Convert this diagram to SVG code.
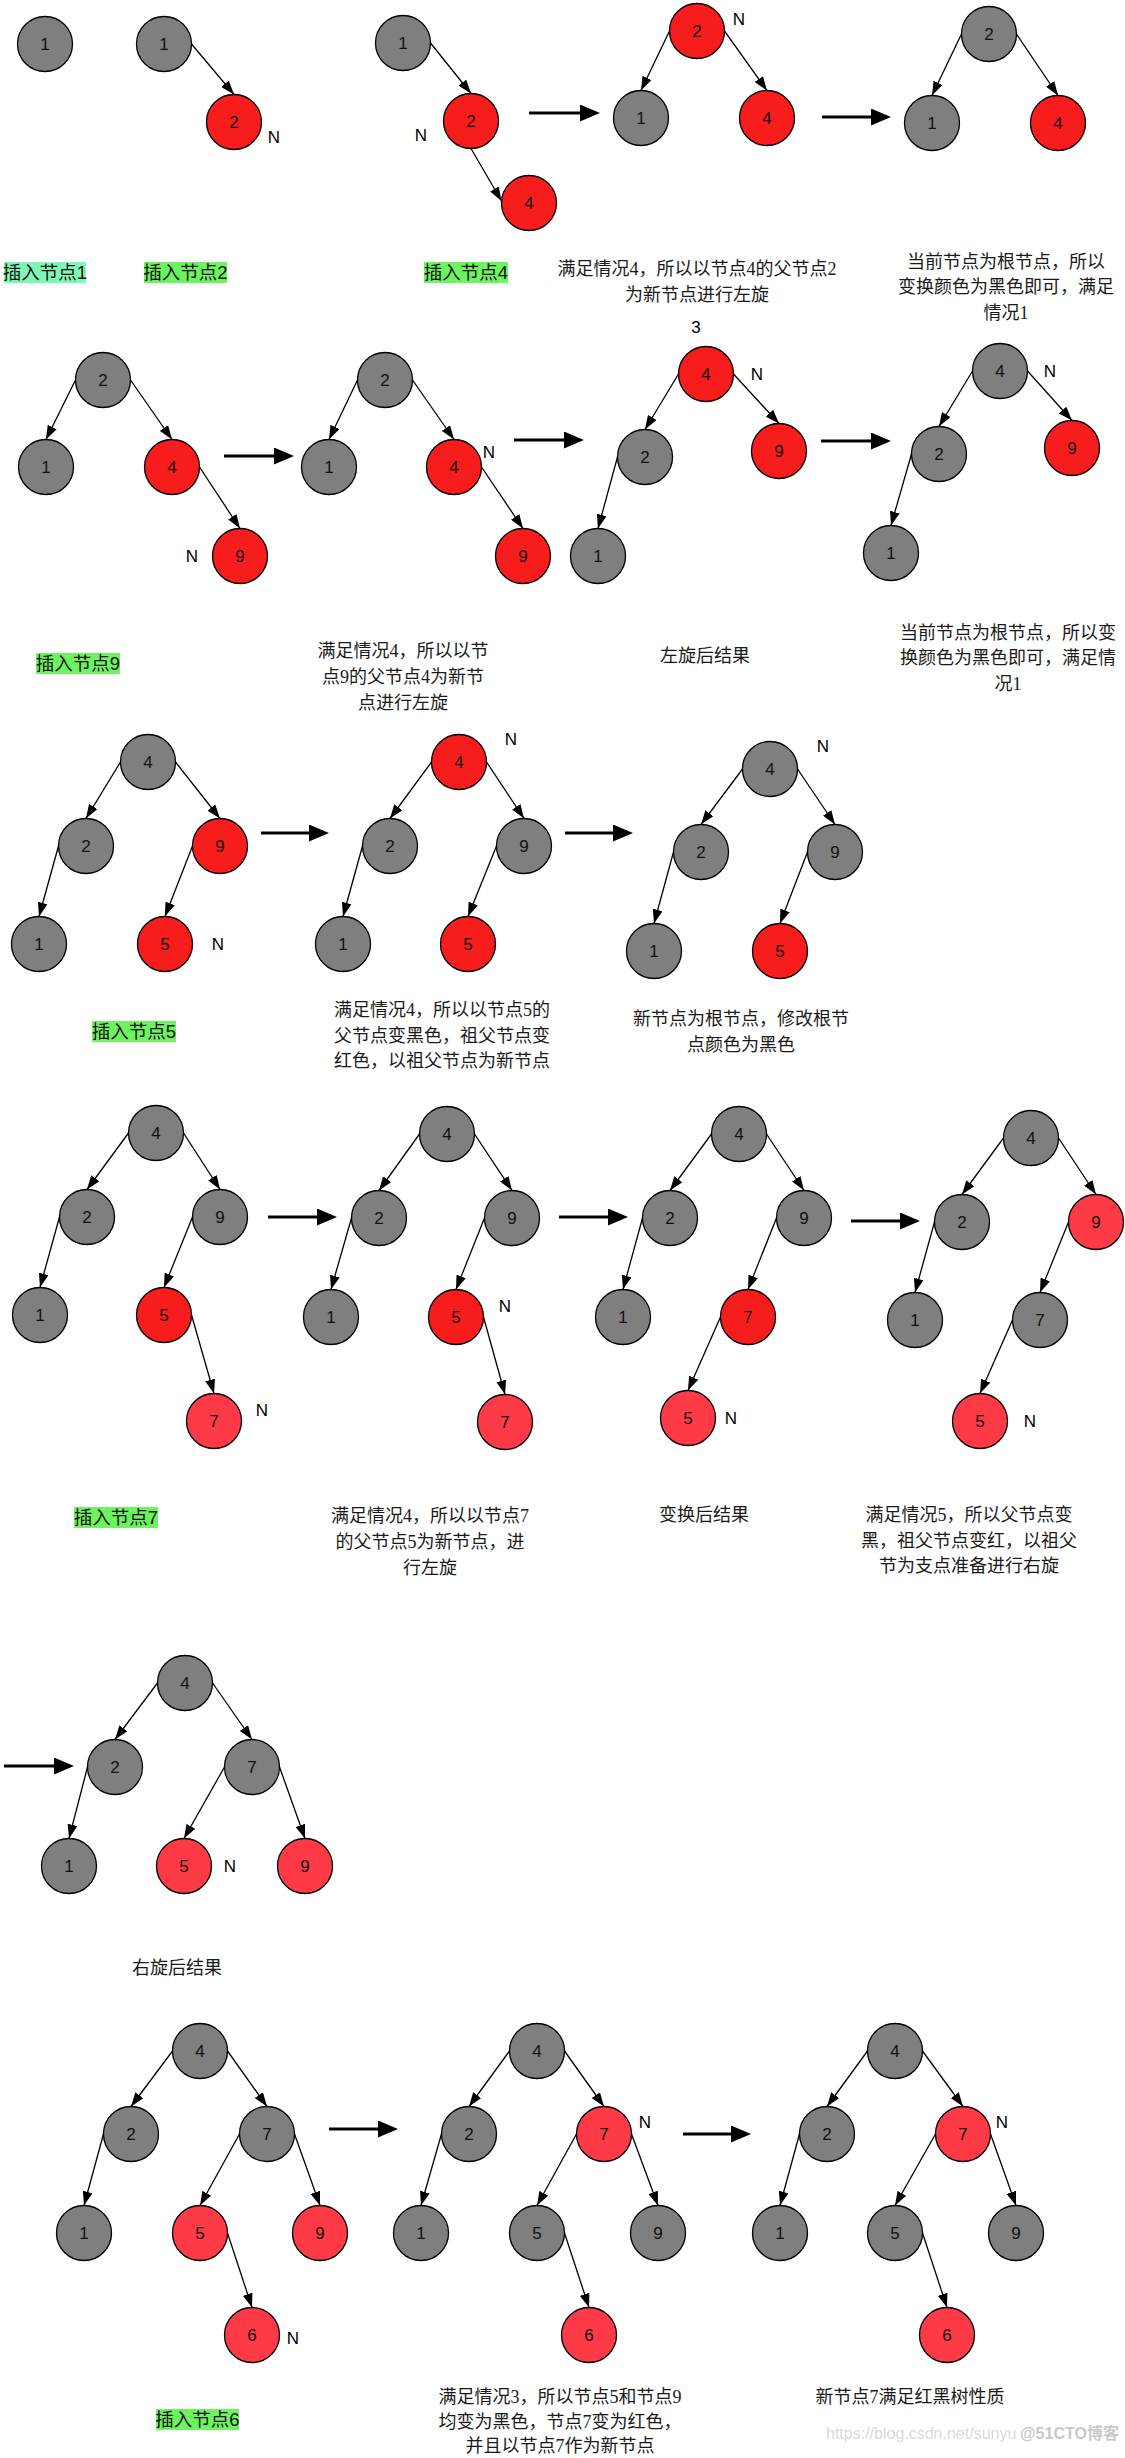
<svg xmlns="http://www.w3.org/2000/svg" width="1125" height="2458" viewBox="0 0 1125 2458">
<style>
.g{fill:#7f7f7f;stroke:#000;stroke-width:1.3}
.r{fill:#f71d1d;stroke:#000;stroke-width:1.3}
.lr{fill:#fd3a45;stroke:#000;stroke-width:1.3}
.t{font-family:"Liberation Sans",Arial,sans-serif;font-size:17px;fill:#111;text-anchor:middle;dominant-baseline:central}
.n{font-family:"Liberation Sans",Arial,sans-serif;font-size:17px;fill:#000;text-anchor:middle;dominant-baseline:central}
.cap{font-family:"Liberation Serif","Noto Sans CJK SC",serif;font-size:18px;fill:#1a1a1a;text-anchor:middle;dominant-baseline:central}
.lbl{font-family:"Liberation Sans","Noto Sans CJK SC",sans-serif;font-size:18.5px;fill:#111;text-anchor:middle;dominant-baseline:central}
.hl1{fill:#7ef7b6}
.hl{fill:#6df35f}
.e{fill:none;stroke:#000;stroke-width:1.3;marker-end:url(#ah)}
.big{fill:none;stroke:#000;stroke-width:3;marker-end:url(#bh)}
.wm{font-family:"Liberation Sans",Arial,sans-serif;font-size:16px;fill:#dadada}
.wm2{font-family:"Liberation Sans","Noto Sans CJK SC",sans-serif;font-size:16px;font-weight:bold;fill:#c8c8c8}
</style>
<defs>
<marker id="ah" markerUnits="userSpaceOnUse" markerWidth="14" markerHeight="10" refX="14" refY="5" orient="auto"><path d="M0,0 L14,5 L0,10 z" fill="#000"/></marker>
<marker id="bh" markerUnits="userSpaceOnUse" markerWidth="20" markerHeight="17" refX="2" refY="8.5" orient="auto"><path d="M0,0 L20,8.5 L0,17 z" fill="#000"/></marker>
</defs>
<rect width="1125" height="2458" fill="#fff"/>

<g id="connectors">
<path class="e" d="M191.5,44 L234,94.5"/>
<path class="e" d="M430.5,43 L471,93.5"/>
<path class="e" d="M471,148.5 L501.5,201"/>
<path class="e" d="M669.5,31 L641,90.5"/>
<path class="e" d="M724.5,31 L767,90.5"/>
<path class="e" d="M961.5,34 L932,95.5"/>
<path class="e" d="M1016.5,34 L1058,95.5"/>
<path class="e" d="M75.5,380 L46,439.5"/>
<path class="e" d="M130.5,380 L172,439.5"/>
<path class="e" d="M199.5,467 L240,528.5"/>
<path class="e" d="M357.5,380 L329,439.5"/>
<path class="e" d="M412.5,380 L454,439.5"/>
<path class="e" d="M481.5,467 L523,528.5"/>
<path class="e" d="M678.5,374 L645,429.5"/>
<path class="e" d="M733.5,374 L779,423.5"/>
<path class="e" d="M617.5,457 L598,528.5"/>
<path class="e" d="M972.5,371 L939,426.5"/>
<path class="e" d="M1027.5,371 L1072,420.5"/>
<path class="e" d="M911.5,454 L891,525.5"/>
<path class="e" d="M120.5,762 L86,818.5"/>
<path class="e" d="M175.5,762 L220,818.5"/>
<path class="e" d="M58.5,846 L39,916.5"/>
<path class="e" d="M192.5,846 L165,916.5"/>
<path class="e" d="M431.5,762 L390,818.5"/>
<path class="e" d="M486.5,762 L524,818.5"/>
<path class="e" d="M362.5,846 L343,916.5"/>
<path class="e" d="M496.5,846 L468,916.5"/>
<path class="e" d="M742.5,769 L701,824.5"/>
<path class="e" d="M797.5,769 L835,824.5"/>
<path class="e" d="M673.5,852 L654,923.5"/>
<path class="e" d="M807.5,852 L780,923.5"/>
<path class="e" d="M128.5,1133 L87,1189.5"/>
<path class="e" d="M183.5,1133 L220,1189.5"/>
<path class="e" d="M59.5,1217 L40,1287.5"/>
<path class="e" d="M192.5,1217 L164,1287.5"/>
<path class="e" d="M191.5,1315 L214,1393.5"/>
<path class="e" d="M419.5,1134 L379,1190.5"/>
<path class="e" d="M474.5,1134 L512,1190.5"/>
<path class="e" d="M351.5,1218 L331,1289.5"/>
<path class="e" d="M484.5,1218 L456,1289.5"/>
<path class="e" d="M483.5,1317 L505,1394.5"/>
<path class="e" d="M711.5,1134 L670,1190.5"/>
<path class="e" d="M766.5,1134 L804,1190.5"/>
<path class="e" d="M642.5,1218 L623,1289.5"/>
<path class="e" d="M776.5,1218 L748,1289.5"/>
<path class="e" d="M720.5,1317 L688,1390.5"/>
<path class="e" d="M1003.5,1138 L962,1194.5"/>
<path class="e" d="M1058.5,1138 L1096,1194.5"/>
<path class="e" d="M934.5,1222 L915,1292.5"/>
<path class="e" d="M1068.5,1222 L1040,1292.5"/>
<path class="e" d="M1012.5,1320 L980,1393.5"/>
<path class="e" d="M157.5,1683 L115,1739.5"/>
<path class="e" d="M212.5,1683 L252,1739.5"/>
<path class="e" d="M87.5,1767 L69,1838.5"/>
<path class="e" d="M224.5,1767 L184,1838.5"/>
<path class="e" d="M279.5,1767 L305,1838.5"/>
<path class="e" d="M172.5,2051 L131,2106.5"/>
<path class="e" d="M227.5,2051 L267,2106.5"/>
<path class="e" d="M103.5,2134 L84,2205.5"/>
<path class="e" d="M239.5,2134 L200,2205.5"/>
<path class="e" d="M294.5,2134 L320,2205.5"/>
<path class="e" d="M227.5,2233 L252,2307.5"/>
<path class="e" d="M509.5,2051 L469,2106.5"/>
<path class="e" d="M564.5,2051 L604,2106.5"/>
<path class="e" d="M441.5,2134 L421,2205.5"/>
<path class="e" d="M576.5,2134 L537,2205.5"/>
<path class="e" d="M631.5,2134 L658,2205.5"/>
<path class="e" d="M564.5,2233 L589,2307.5"/>
<path class="e" d="M867.5,2051 L827,2106.5"/>
<path class="e" d="M922.5,2051 L963,2106.5"/>
<path class="e" d="M799.5,2134 L780,2205.5"/>
<path class="e" d="M935.5,2134 L895,2205.5"/>
<path class="e" d="M990.5,2134 L1016,2205.5"/>
<path class="e" d="M922.5,2233 L947,2307.5"/>
<path class="big" d="M529,113 L582,113"/>
<path class="big" d="M822,117 L873,117"/>
<path class="big" d="M224,456 L276,456"/>
<path class="big" d="M514,440 L566,440"/>
<path class="big" d="M821,441 L873,441"/>
<path class="big" d="M261,833 L311,833"/>
<path class="big" d="M565,833 L615,833"/>
<path class="big" d="M268,1217 L319,1217"/>
<path class="big" d="M559,1217 L610,1217"/>
<path class="big" d="M851,1221 L902,1221"/>
<path class="big" d="M4,1766 L56,1766"/>
<path class="big" d="M329,2129 L380,2129"/>
<path class="big" d="M683,2134 L733,2134"/>
</g>

<g id="r1a-n1"><circle class="g" cx="45" cy="44" r="27.5"/><text class="t" x="45" y="44">1</text></g>
<g id="r1b-n1"><circle class="g" cx="164" cy="44" r="27.5"/><text class="t" x="164" y="44">1</text></g>
<g id="r1b-n2"><circle class="r" cx="234" cy="122" r="27.5"/><text class="t" x="234" y="122">2</text></g>
<text class="n" x="274" y="137">N</text>
<g id="r1c-n1"><circle class="g" cx="403" cy="43" r="27.5"/><text class="t" x="403" y="43">1</text></g>
<g id="r1c-n2"><circle class="r" cx="471" cy="121" r="27.5"/><text class="t" x="471" y="121">2</text></g>
<g id="r1c-n4"><circle class="r" cx="529" cy="203" r="27.5"/><text class="t" x="529" y="203">4</text></g>
<text class="n" x="421" y="135">N</text>
<g id="r1d-n2"><circle class="r" cx="697" cy="31" r="27.5"/><text class="t" x="697" y="31">2</text></g>
<g id="r1d-n1"><circle class="g" cx="641" cy="118" r="27.5"/><text class="t" x="641" y="118">1</text></g>
<g id="r1d-n4"><circle class="r" cx="767" cy="118" r="27.5"/><text class="t" x="767" y="118">4</text></g>
<text class="n" x="739" y="19">N</text>
<g id="r1e-n2"><circle class="g" cx="989" cy="34" r="27.5"/><text class="t" x="989" y="34">2</text></g>
<g id="r1e-n1"><circle class="g" cx="932" cy="123" r="27.5"/><text class="t" x="932" y="123">1</text></g>
<g id="r1e-n4"><circle class="r" cx="1058" cy="123" r="27.5"/><text class="t" x="1058" y="123">4</text></g>

<g id="lbl1"><rect class="hl1" x="4" y="262" width="82" height="21"/><text class="lbl" x="45" y="272.5">插入节点1</text></g>
<g id="lbl2"><rect class="hl" x="144" y="262" width="83" height="21"/><text class="lbl" x="185.5" y="272.5">插入节点2</text></g>
<g id="lbl4"><rect class="hl" x="424" y="262" width="84" height="21"/><text class="lbl" x="466" y="272.5">插入节点4</text></g>
<text class="cap" x="697" y="269">满足情况4，所以以节点4的父节点2</text>
<text class="cap" x="697" y="295">为新节点进行左旋</text>
<text class="cap" x="1006" y="262">当前节点为根节点，所以</text>
<text class="cap" x="1006" y="287">变换颜色为黑色即可，满足</text>
<text class="cap" x="1006" y="313">情况1</text>

<g id="r2a-n2"><circle class="g" cx="103" cy="380" r="27.5"/><text class="t" x="103" y="380">2</text></g>
<g id="r2a-n1"><circle class="g" cx="46" cy="467" r="27.5"/><text class="t" x="46" y="467">1</text></g>
<g id="r2a-n4"><circle class="r" cx="172" cy="467" r="27.5"/><text class="t" x="172" y="467">4</text></g>
<g id="r2a-n9"><circle class="r" cx="240" cy="556" r="27.5"/><text class="t" x="240" y="556">9</text></g>
<text class="n" x="192" y="556">N</text>
<g id="r2b-n2"><circle class="g" cx="385" cy="380" r="27.5"/><text class="t" x="385" y="380">2</text></g>
<g id="r2b-n1"><circle class="g" cx="329" cy="467" r="27.5"/><text class="t" x="329" y="467">1</text></g>
<g id="r2b-n4"><circle class="r" cx="454" cy="467" r="27.5"/><text class="t" x="454" y="467">4</text></g>
<g id="r2b-n9"><circle class="r" cx="523" cy="556" r="27.5"/><text class="t" x="523" y="556">9</text></g>
<text class="n" x="489" y="452">N</text>
<text class="n" x="696" y="327">3</text>
<g id="r2c-n4"><circle class="r" cx="706" cy="374" r="27.5"/><text class="t" x="706" y="374">4</text></g>
<g id="r2c-n2"><circle class="g" cx="645" cy="457" r="27.5"/><text class="t" x="645" y="457">2</text></g>
<g id="r2c-n9"><circle class="r" cx="779" cy="451" r="27.5"/><text class="t" x="779" y="451">9</text></g>
<g id="r2c-n1"><circle class="g" cx="598" cy="556" r="27.5"/><text class="t" x="598" y="556">1</text></g>
<text class="n" x="757" y="374">N</text>
<g id="r2d-n4"><circle class="g" cx="1000" cy="371" r="27.5"/><text class="t" x="1000" y="371">4</text></g>
<g id="r2d-n2"><circle class="g" cx="939" cy="454" r="27.5"/><text class="t" x="939" y="454">2</text></g>
<g id="r2d-n9"><circle class="r" cx="1072" cy="448" r="27.5"/><text class="t" x="1072" y="448">9</text></g>
<g id="r2d-n1"><circle class="g" cx="891" cy="553" r="27.5"/><text class="t" x="891" y="553">1</text></g>
<text class="n" x="1050" y="371">N</text>

<g id="lbl9"><rect class="hl" x="36" y="653" width="84" height="21"/><text class="lbl" x="78" y="663.5">插入节点9</text></g>
<text class="cap" x="403" y="651">满足情况4，所以以节</text>
<text class="cap" x="403" y="677">点9的父节点4为新节</text>
<text class="cap" x="403" y="703">点进行左旋</text>
<text class="cap" x="705" y="656">左旋后结果</text>
<text class="cap" x="1008" y="633">当前节点为根节点，所以变</text>
<text class="cap" x="1008" y="658">换颜色为黑色即可，满足情</text>
<text class="cap" x="1008" y="684">况1</text>

<g id="r3a-n4"><circle class="g" cx="148" cy="762" r="27.5"/><text class="t" x="148" y="762">4</text></g>
<g id="r3a-n2"><circle class="g" cx="86" cy="846" r="27.5"/><text class="t" x="86" y="846">2</text></g>
<g id="r3a-n9"><circle class="r" cx="220" cy="846" r="27.5"/><text class="t" x="220" y="846">9</text></g>
<g id="r3a-n1"><circle class="g" cx="39" cy="944" r="27.5"/><text class="t" x="39" y="944">1</text></g>
<g id="r3a-n5"><circle class="r" cx="165" cy="944" r="27.5"/><text class="t" x="165" y="944">5</text></g>
<text class="n" x="218" y="944">N</text>
<g id="r3b-n4"><circle class="r" cx="459" cy="762" r="27.5"/><text class="t" x="459" y="762">4</text></g>
<g id="r3b-n2"><circle class="g" cx="390" cy="846" r="27.5"/><text class="t" x="390" y="846">2</text></g>
<g id="r3b-n9"><circle class="g" cx="524" cy="846" r="27.5"/><text class="t" x="524" y="846">9</text></g>
<g id="r3b-n1"><circle class="g" cx="343" cy="944" r="27.5"/><text class="t" x="343" y="944">1</text></g>
<g id="r3b-n5"><circle class="r" cx="468" cy="944" r="27.5"/><text class="t" x="468" y="944">5</text></g>
<text class="n" x="511" y="739">N</text>
<g id="r3c-n4"><circle class="g" cx="770" cy="769" r="27.5"/><text class="t" x="770" y="769">4</text></g>
<g id="r3c-n2"><circle class="g" cx="701" cy="852" r="27.5"/><text class="t" x="701" y="852">2</text></g>
<g id="r3c-n9"><circle class="g" cx="835" cy="852" r="27.5"/><text class="t" x="835" y="852">9</text></g>
<g id="r3c-n1"><circle class="g" cx="654" cy="951" r="27.5"/><text class="t" x="654" y="951">1</text></g>
<g id="r3c-n5"><circle class="r" cx="780" cy="951" r="27.5"/><text class="t" x="780" y="951">5</text></g>
<text class="n" x="823" y="746">N</text>

<g id="lbl5"><rect class="hl" x="92" y="1021" width="84" height="21"/><text class="lbl" x="134" y="1031.5">插入节点5</text></g>
<text class="cap" x="442" y="1010">满足情况4，所以以节点5的</text>
<text class="cap" x="442" y="1036">父节点变黑色，祖父节点变</text>
<text class="cap" x="442" y="1061">红色，以祖父节点为新节点</text>
<text class="cap" x="741" y="1019">新节点为根节点，修改根节</text>
<text class="cap" x="741" y="1045">点颜色为黑色</text>

<g id="r4a-n4"><circle class="g" cx="156" cy="1133" r="27.5"/><text class="t" x="156" y="1133">4</text></g>
<g id="r4a-n2"><circle class="g" cx="87" cy="1217" r="27.5"/><text class="t" x="87" y="1217">2</text></g>
<g id="r4a-n9"><circle class="g" cx="220" cy="1217" r="27.5"/><text class="t" x="220" y="1217">9</text></g>
<g id="r4a-n1"><circle class="g" cx="40" cy="1315" r="27.5"/><text class="t" x="40" y="1315">1</text></g>
<g id="r4a-n5"><circle class="r" cx="164" cy="1315" r="27.5"/><text class="t" x="164" y="1315">5</text></g>
<g id="r4a-n7"><circle class="lr" cx="214" cy="1421" r="27.5"/><text class="t" x="214" y="1421">7</text></g>
<text class="n" x="262" y="1410">N</text>
<g id="r4b-n4"><circle class="g" cx="447" cy="1134" r="27.5"/><text class="t" x="447" y="1134">4</text></g>
<g id="r4b-n2"><circle class="g" cx="379" cy="1218" r="27.5"/><text class="t" x="379" y="1218">2</text></g>
<g id="r4b-n9"><circle class="g" cx="512" cy="1218" r="27.5"/><text class="t" x="512" y="1218">9</text></g>
<g id="r4b-n1"><circle class="g" cx="331" cy="1317" r="27.5"/><text class="t" x="331" y="1317">1</text></g>
<g id="r4b-n5"><circle class="r" cx="456" cy="1317" r="27.5"/><text class="t" x="456" y="1317">5</text></g>
<g id="r4b-n7"><circle class="lr" cx="505" cy="1422" r="27.5"/><text class="t" x="505" y="1422">7</text></g>
<text class="n" x="505" y="1306">N</text>
<g id="r4c-n4"><circle class="g" cx="739" cy="1134" r="27.5"/><text class="t" x="739" y="1134">4</text></g>
<g id="r4c-n2"><circle class="g" cx="670" cy="1218" r="27.5"/><text class="t" x="670" y="1218">2</text></g>
<g id="r4c-n9"><circle class="g" cx="804" cy="1218" r="27.5"/><text class="t" x="804" y="1218">9</text></g>
<g id="r4c-n1"><circle class="g" cx="623" cy="1317" r="27.5"/><text class="t" x="623" y="1317">1</text></g>
<g id="r4c-n7"><circle class="r" cx="748" cy="1317" r="27.5"/><text class="t" x="748" y="1317">7</text></g>
<g id="r4c-n5"><circle class="lr" cx="688" cy="1418" r="27.5"/><text class="t" x="688" y="1418">5</text></g>
<text class="n" x="731" y="1418">N</text>
<g id="r4d-n4"><circle class="g" cx="1031" cy="1138" r="27.5"/><text class="t" x="1031" y="1138">4</text></g>
<g id="r4d-n2"><circle class="g" cx="962" cy="1222" r="27.5"/><text class="t" x="962" y="1222">2</text></g>
<g id="r4d-n9"><circle class="lr" cx="1096" cy="1222" r="27.5"/><text class="t" x="1096" y="1222">9</text></g>
<g id="r4d-n1"><circle class="g" cx="915" cy="1320" r="27.5"/><text class="t" x="915" y="1320">1</text></g>
<g id="r4d-n7"><circle class="g" cx="1040" cy="1320" r="27.5"/><text class="t" x="1040" y="1320">7</text></g>
<g id="r4d-n5"><circle class="lr" cx="980" cy="1421" r="27.5"/><text class="t" x="980" y="1421">5</text></g>
<text class="n" x="1030" y="1421">N</text>

<g id="lbl7"><rect class="hl" x="74" y="1507" width="84" height="21"/><text class="lbl" x="116" y="1517.5">插入节点7</text></g>
<text class="cap" x="430" y="1516">满足情况4，所以以节点7</text>
<text class="cap" x="430" y="1542">的父节点5为新节点，进</text>
<text class="cap" x="430" y="1568">行左旋</text>
<text class="cap" x="704" y="1515">变换后结果</text>
<text class="cap" x="969" y="1515">满足情况5，所以父节点变</text>
<text class="cap" x="969" y="1541">黑，祖父节点变红，以祖父</text>
<text class="cap" x="969" y="1566">节为支点准备进行右旋</text>

<g id="r5-n4"><circle class="g" cx="185" cy="1683" r="27.5"/><text class="t" x="185" y="1683">4</text></g>
<g id="r5-n2"><circle class="g" cx="115" cy="1767" r="27.5"/><text class="t" x="115" y="1767">2</text></g>
<g id="r5-n7"><circle class="g" cx="252" cy="1767" r="27.5"/><text class="t" x="252" y="1767">7</text></g>
<g id="r5-n1"><circle class="g" cx="69" cy="1866" r="27.5"/><text class="t" x="69" y="1866">1</text></g>
<g id="r5-n5"><circle class="lr" cx="184" cy="1866" r="27.5"/><text class="t" x="184" y="1866">5</text></g>
<g id="r5-n9"><circle class="lr" cx="305" cy="1866" r="27.5"/><text class="t" x="305" y="1866">9</text></g>
<text class="n" x="230" y="1866">N</text>
<text class="cap" x="177" y="1968">右旋后结果</text>

<g id="r6a-n4"><circle class="g" cx="200" cy="2051" r="27.5"/><text class="t" x="200" y="2051">4</text></g>
<g id="r6a-n2"><circle class="g" cx="131" cy="2134" r="27.5"/><text class="t" x="131" y="2134">2</text></g>
<g id="r6a-n7"><circle class="g" cx="267" cy="2134" r="27.5"/><text class="t" x="267" y="2134">7</text></g>
<g id="r6a-n1"><circle class="g" cx="84" cy="2233" r="27.5"/><text class="t" x="84" y="2233">1</text></g>
<g id="r6a-n5"><circle class="lr" cx="200" cy="2233" r="27.5"/><text class="t" x="200" y="2233">5</text></g>
<g id="r6a-n9"><circle class="lr" cx="320" cy="2233" r="27.5"/><text class="t" x="320" y="2233">9</text></g>
<g id="r6a-n6"><circle class="lr" cx="252" cy="2335" r="27.5"/><text class="t" x="252" y="2335">6</text></g>
<text class="n" x="293" y="2338">N</text>
<g id="r6b-n4"><circle class="g" cx="537" cy="2051" r="27.5"/><text class="t" x="537" y="2051">4</text></g>
<g id="r6b-n2"><circle class="g" cx="469" cy="2134" r="27.5"/><text class="t" x="469" y="2134">2</text></g>
<g id="r6b-n7"><circle class="lr" cx="604" cy="2134" r="27.5"/><text class="t" x="604" y="2134">7</text></g>
<g id="r6b-n1"><circle class="g" cx="421" cy="2233" r="27.5"/><text class="t" x="421" y="2233">1</text></g>
<g id="r6b-n5"><circle class="g" cx="537" cy="2233" r="27.5"/><text class="t" x="537" y="2233">5</text></g>
<g id="r6b-n9"><circle class="g" cx="658" cy="2233" r="27.5"/><text class="t" x="658" y="2233">9</text></g>
<g id="r6b-n6"><circle class="lr" cx="589" cy="2335" r="27.5"/><text class="t" x="589" y="2335">6</text></g>
<text class="n" x="645" y="2122">N</text>
<g id="r6c-n4"><circle class="g" cx="895" cy="2051" r="27.5"/><text class="t" x="895" y="2051">4</text></g>
<g id="r6c-n2"><circle class="g" cx="827" cy="2134" r="27.5"/><text class="t" x="827" y="2134">2</text></g>
<g id="r6c-n7"><circle class="lr" cx="963" cy="2134" r="27.5"/><text class="t" x="963" y="2134">7</text></g>
<g id="r6c-n1"><circle class="g" cx="780" cy="2233" r="27.5"/><text class="t" x="780" y="2233">1</text></g>
<g id="r6c-n5"><circle class="g" cx="895" cy="2233" r="27.5"/><text class="t" x="895" y="2233">5</text></g>
<g id="r6c-n9"><circle class="g" cx="1016" cy="2233" r="27.5"/><text class="t" x="1016" y="2233">9</text></g>
<g id="r6c-n6"><circle class="lr" cx="947" cy="2335" r="27.5"/><text class="t" x="947" y="2335">6</text></g>
<text class="n" x="1002" y="2122">N</text>

<g id="lbl6"><rect class="hl" x="156" y="2409" width="83" height="21"/><text class="lbl" x="197.5" y="2419.5">插入节点6</text></g>
<text class="cap" x="560" y="2397">满足情况3，所以节点5和节点9</text>
<text class="cap" x="560" y="2422">均变为黑色，节点7变为红色，</text>
<text class="cap" x="560" y="2446">并且以节点7作为新节点</text>
<text class="cap" x="910" y="2397">新节点7满足红黑树性质</text>

<text class="wm" x="826" y="2439">https://blog.csdn.net/sunyu</text>
<text class="wm2" x="1020" y="2439">@51CTO博客</text>
</svg>
